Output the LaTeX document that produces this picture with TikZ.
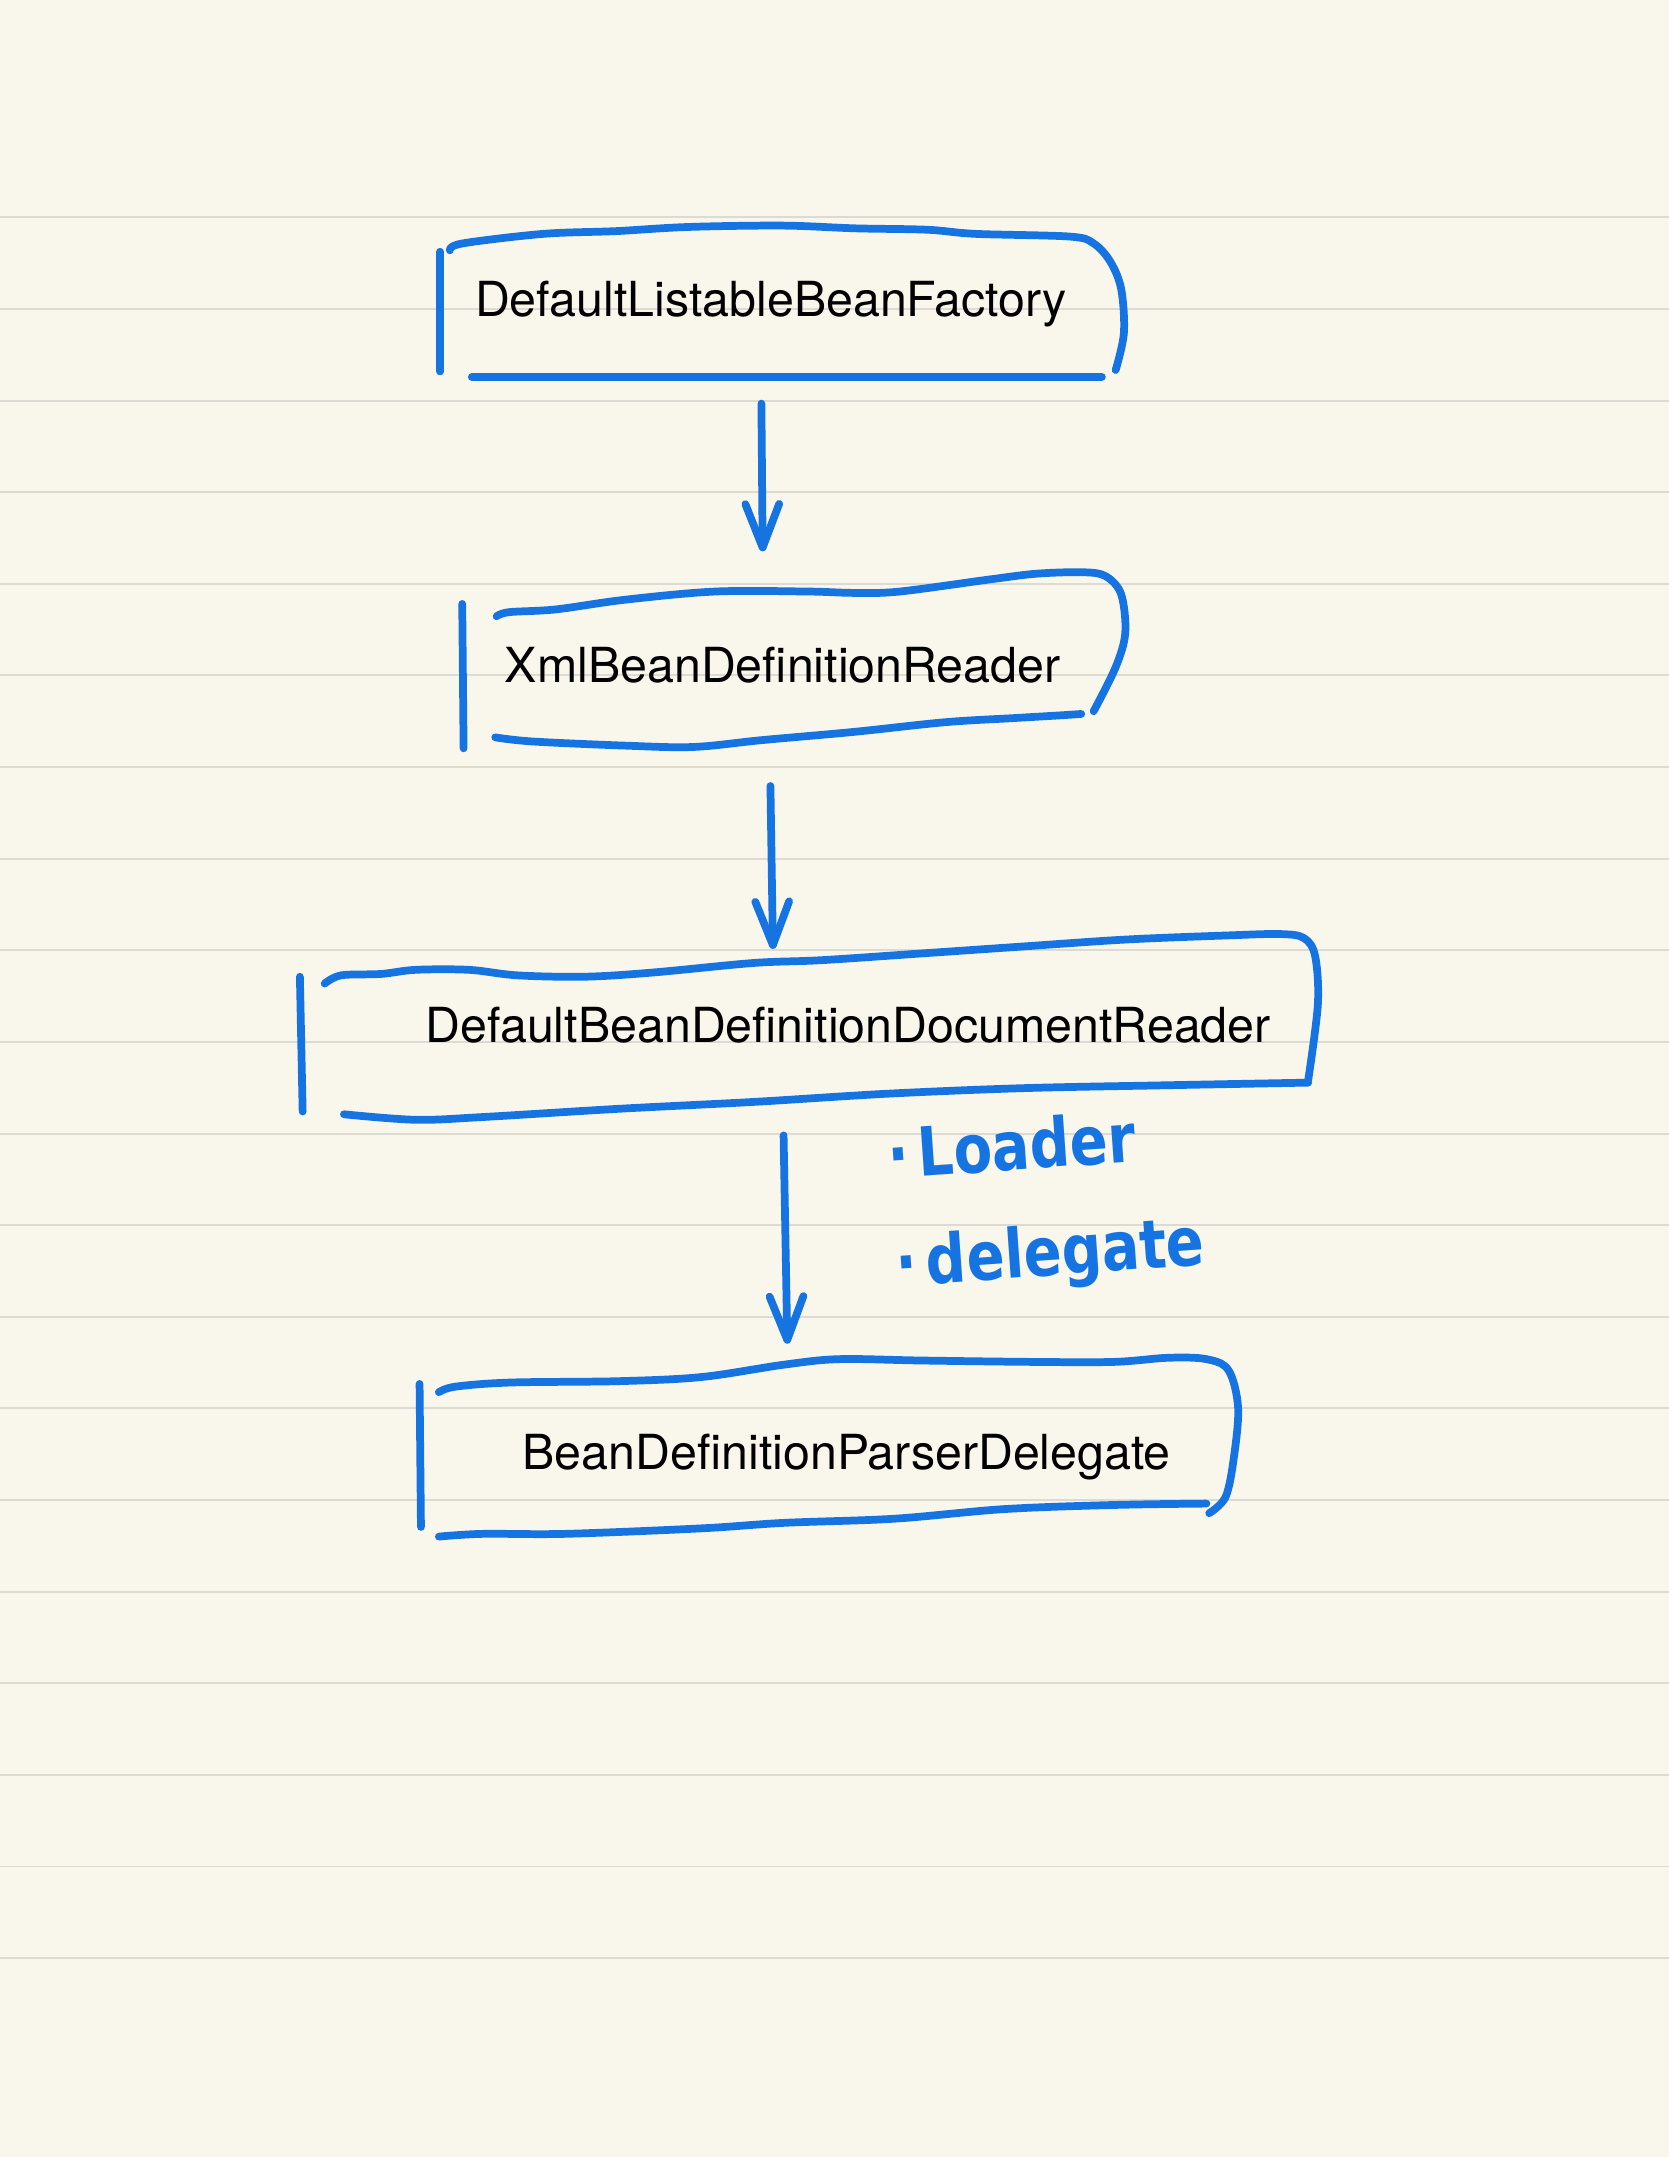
\documentclass[tikz,border=0pt]{standalone}
\usepackage{fontspec}
\setmainfont{TeX Gyre Heros}
\newfontfamily\handfont{DejaVu Sans}
\usetikzlibrary{arrows.meta}
\definecolor{paper}{HTML}{F9F7EC}
\definecolor{ruling}{HTML}{DCDAD2}
\definecolor{ink}{HTML}{1674E2}

\begin{document}
\begin{tikzpicture}[x=0.02cm, y=-0.02cm,
    cls/.style={anchor=base, inner sep=0pt, text height=15pt, text depth=4pt,
      font=\fontsize{20}{24}\selectfont},
    pen/.style={draw=ink, line width=3.2pt, line cap=round, line join=round},
    penarrow/.style={pen, -{Straight Barb[length=18pt, width=14pt, round]}},
    note/.style={anchor=base west, inner sep=0pt, text=ink, transform shape,
      rotate=4, xscale=0.83, font=\handfont\bfseries\fontsize{28}{30}\selectfont},
    rule/.style={draw=ruling, line width=0.8pt}
  ]
    \fill[paper] (0,0) rectangle (1213,1568);
    \useasboundingbox (0,0) rectangle (1213,1568);
    \foreach \k in {0,...,19}
      \draw[rule] (0,{158+66.6*\k}) -- (1213,{158+66.6*\k});

    \node[cls] (factory) at (560.5,230) {DefaultListableBeanFactory};
    \node[cls] (xmlreader) at (569,496) {XmlBeanDefinitionReader};
    \node[cls] (docreader) at (616.5,757.5) {DefaultBeanDefinitionDocumentReader};
    \node[cls] (delegate) at (615.5,1068) {BeanDefinitionParserDelegate};

    \draw[pen] (320,183) -- (320,270);
    \draw[pen] plot[smooth, tension=0.55] coordinates {(327,182) (336,177) (395,170)
      (448,168) (500,165) (569,164) (622,166) (674,167) (709,170) (778,172) (795,177)
      (807,190) (815,210) (817,242) (811,269)};
    \draw[pen] (343,274) -- (801,274);

    \draw[pen] (336,439) -- (337,544);
    \draw[pen] plot[smooth, tension=0.55] coordinates {(361,448) (370,445) (404,443)
      (454,436) (520,430) (587,430) (621,431) (654,430) (721,421) (754,417) (788,416)
      (804,419) (815,432) (818,460) (811,485) (795,517)};
    \draw[pen] plot[smooth, tension=0.55] coordinates {(360,536) (387,539) (454,542)
      (504,543) (554,538) (621,532) (687,525) (737,522) (771,520) (786,519)};

    \draw[pen] (218,710) -- (220,808);
    \draw[pen] plot[smooth, tension=0.55] coordinates {(236,715) (248,709) (277,708)
      (302,705) (341,705) (376,709) (425,710) (474,707) (548,700) (597,698) (671,693)
      (744,688) (818,683) (892,680) (931,679) (948,682) (956,695) (958,730) (951,785)};
    \draw[pen] plot[smooth, tension=0.55] coordinates {(951,787) (843,789) (744,791)
      (646,795) (548,801) (450,806) (351,812) (302,814) (250,810)};

    \draw[pen] (305,1006) -- (306,1110);
    \draw[pen] plot[smooth, tension=0.55] coordinates {(319,1012) (331,1008) (371,1005)
      (450,1004) (510,1001) (570,992) (610,988) (670,989) (750,990) (810,990) (849,987)
      (877,988) (893,996) (900,1023) (897,1059) (891,1088) (879,1100)};
    \draw[pen] plot[smooth, tension=0.55] coordinates {(877,1093) (810,1094) (730,1097)
      (650,1104) (570,1107) (510,1111) (411,1115) (351,1115) (319,1117)};

    \draw[penarrow, shorten <=1.12cm, shorten >=1.37cm]
      ([xshift=-0.15cm]factory.south) -- ([xshift=-0.28cm]xmlreader.north);
    \draw[penarrow, shorten <=1.36cm, shorten >=0.82cm]
      ([xshift=-0.2cm]xmlreader.south) -- ([xshift=-1.08cm]docreader.north);
    \draw[penarrow, shorten <=1.21cm, shorten >=1.29cm]
      ([xshift=-0.96cm]docreader.south) -- ([xshift=-0.84cm]delegate.north);

    \node[note] (loader) at (646,857) {·\,Loader};
    \node[note] (delegatenote) at (652,935) {·\,delegate};
  \end{tikzpicture}
\end{document}
